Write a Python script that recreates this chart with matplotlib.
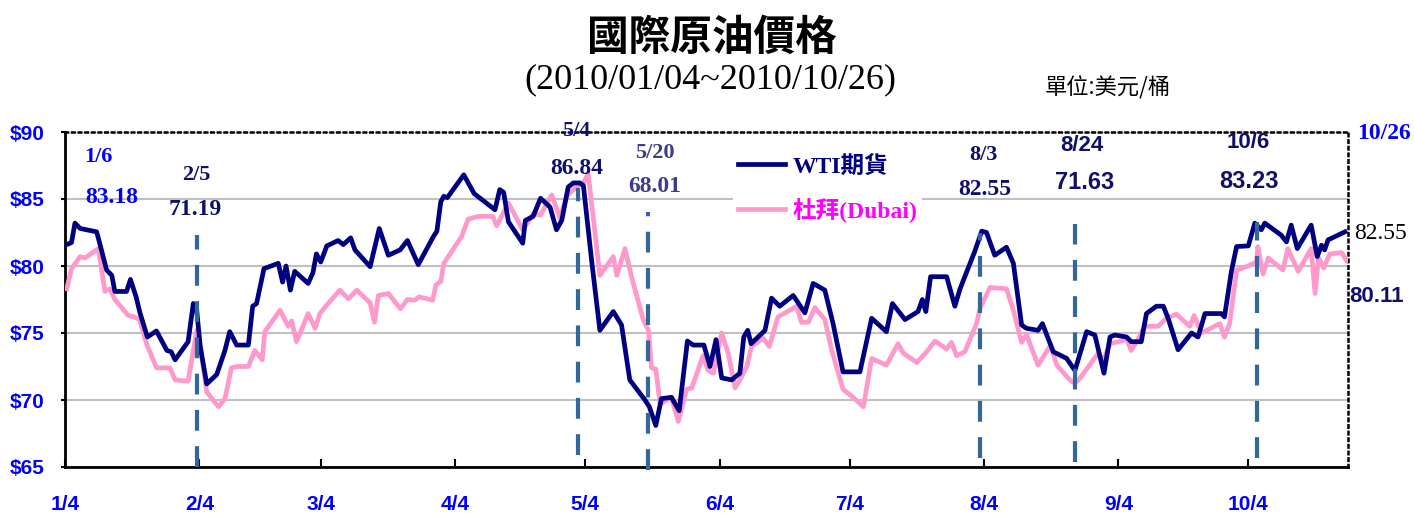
import datetime as dt
import matplotlib
matplotlib.use("Agg")
import matplotlib.pyplot as plt
from matplotlib import font_manager as fm

# days counted from 2010/01/04, values in US$/barrel
wti_day = [0.4, 1.5, 2.3, 3.5, 7.3, 8.0, 9.6, 10.8, 11.5, 14.2, 15.1, 16.4, 17.3, 19.0,
           21.1, 23.5, 24.5, 25.4, 28.4, 29.6, 30.3, 31.2, 32.7, 35.0, 36.9, 38.0, 39.6,
           42.3, 43.3, 44.2, 45.9, 49.2, 50.2, 51.0, 52.0, 53.0, 56.1, 57.2, 58.0, 59.0,
           60.4, 63.0, 64.2, 65.9, 66.9, 70.4, 72.5, 74.6, 77.3, 79.0, 81.5, 85.0, 85.8,
           86.7, 87.4, 88.2, 92.0, 94.4, 99.2, 100.3, 101.2, 102.3, 105.6, 106.2, 108.0,
           109.7, 111.9, 113.4, 114.6, 116.1, 117.3, 118.8, 119.6, 121.5, 123.4, 126.5,
           128.4, 130.3, 133.8, 134.8, 136.3, 137.6, 139.9, 141.7, 143.6, 144.9, 147.4,
           148.8, 150.2, 151.5, 153.8, 155.7, 156.6, 157.5, 158.3, 161.5, 163.0, 164.9,
           168.0, 170.7, 172.6, 175.3, 177.2, 179.5, 183.4, 186.1, 189.5, 190.9, 193.8,
           196.8, 197.8, 198.6, 199.7, 203.4, 205.3, 206.5, 209.9, 211.5, 212.6, 214.5,
           217.2, 218.8, 220.7, 221.8, 224.5, 225.5, 228.0, 231.1, 233.0, 235.7, 237.6,
           239.7, 241.1, 242.2, 244.9, 246.0, 248.3, 249.5, 251.8, 253.4, 254.5, 256.8,
           259.9, 261.4, 263.0, 266.8, 267.5, 269.1, 270.3, 273.0, 274.5, 276.0, 276.8,
           279.1, 280.6, 281.8, 282.9, 284.3, 287.5, 288.9, 289.9, 290.6, 291.4, 295.3]
wti_val = [81.6, 81.75, 83.2, 82.8, 82.55, 81.7, 79.7, 79.3, 78.1, 78.1, 79.0, 77.7, 76.5, 74.7,
           75.15, 73.7, 73.6, 73.0, 74.35, 77.2, 77.0, 74.0, 71.2, 71.9, 73.7, 75.1, 74.1,
           74.1, 77.0, 77.2, 79.8, 80.2, 78.8, 80.0, 78.2, 79.6, 78.7, 79.5, 80.9, 80.3,
           81.5, 81.9, 81.6, 82.1, 81.2, 79.95, 82.8, 80.8, 81.2, 81.9, 80.1, 82.2, 82.6,
           84.8, 85.2, 85.1, 86.8, 85.4, 84.2, 85.7, 85.5, 83.3, 81.7, 83.4, 83.7,
           85.05, 84.4, 82.7, 83.4, 85.9, 86.2, 86.2, 86.0, 80.4, 75.2, 76.6,
           75.6, 71.5, 70.0, 69.5, 68.1, 70.1, 70.2, 69.2, 74.4, 74.1, 74.1,
           72.5, 74.5, 71.65, 71.5, 72.0, 74.7, 75.2, 74.2, 75.2, 77.6, 77.0,
           77.8, 76.5, 78.7, 78.2, 75.7, 72.1, 72.1, 76.1, 75.1, 77.2, 76.0,
           76.6, 77.5, 76.6, 79.2, 79.2, 77.0, 78.3, 81.1, 82.6, 82.5, 80.8,
           81.4, 80.2, 75.6, 75.35, 75.2, 75.7, 73.6, 73.1, 72.2, 75.1, 74.85,
           72.0, 74.7, 74.85, 74.7, 74.35, 74.35, 76.45, 77.0, 77.0, 76.1, 73.75,
           75.0, 74.7, 76.45, 76.45, 76.2, 79.6, 81.45, 81.5, 83.2, 82.7, 83.2,
           82.65, 82.3, 81.8, 83.05, 81.3, 83.05, 80.7, 81.55, 81.2, 81.95, 82.55]

dubai_day = [0.4, 1.5, 3.5, 4.6, 7.7, 9.2, 10.3, 11.5, 14.6, 16.0, 17.2, 18.8, 21.1, 24.2,
             25.4, 28.4, 30.4, 31.2, 32.7, 35.4, 36.9, 38.4, 39.6, 42.3, 43.8, 45.5, 46.1,
             49.6, 51.5, 52.3, 53.4, 56.1, 57.7, 58.8, 60.7, 63.4, 65.4, 67.3, 70.4, 71.4,
             72.3, 74.6, 77.4, 79.0, 80.7, 81.7, 84.8, 85.6, 86.7, 87.4, 91.5, 93.0, 95.3,
             98.7, 99.6, 102.3, 105.6, 106.9, 108.0, 109.7, 112.3, 114.2, 115.7, 118.0,
             119.6, 120.7, 123.4, 126.5, 127.3, 129.2, 130.7, 133.4, 134.6, 135.3, 136.3,
             137.3, 139.9, 141.5, 143.4, 144.6, 147.2, 148.4, 149.6, 151.5, 153.0, 154.6,
             155.7, 157.3, 158.4, 161.1, 162.5, 164.5, 168.8, 169.9, 171.5, 173.0, 175.3,
             176.9, 179.5, 181.8, 184.2, 186.1, 189.5, 192.2, 193.4, 196.5, 198.8, 200.7,
             203.4, 204.5, 205.7, 207.6, 210.3, 211.1, 213.4, 217.2, 218.8, 220.7, 221.8,
             224.5, 227.4, 228.8, 231.8, 233.0, 234.1, 238.4, 239.5, 241.1, 244.9, 246.0,
             247.5, 249.1, 252.2, 254.1, 256.4, 259.5, 260.5, 262.2, 266.4, 267.5, 268.7,
             270.3, 272.6, 274.9, 275.2, 276.4, 277.6, 279.1, 281.0, 282.1, 284.5, 287.5,
             288.4, 289.2, 290.4, 291.8, 294.5, 295.7]
dubai_val = [78.3, 79.8, 80.7, 80.6, 81.3, 78.1, 78.3, 77.5, 76.3, 76.2, 76.0, 74.2, 72.4, 72.4,
             71.5, 71.4, 75.2, 74.0, 70.6, 69.5, 70.1, 72.4, 72.5, 72.5, 73.7, 73.0, 75.1,
             76.7, 75.5, 75.9, 74.35, 76.45, 75.35, 76.45, 77.2, 78.2, 77.55, 78.2, 77.25, 75.8,
             77.8, 77.95, 76.8, 77.5, 77.45, 77.7, 77.45, 78.6, 78.85, 80.2, 82.2, 83.5, 83.7,
             83.7, 83.0, 84.7, 82.7, 83.3, 83.9, 83.8, 85.3, 83.55, 85.2, 85.9,
             86.2, 86.9, 79.3, 80.7, 79.3, 81.3, 79.2, 76.0, 75.2, 72.4, 72.3,
             69.7, 70.2, 68.4, 70.8, 70.9, 73.3, 72.2, 72.0, 75.0, 73.5, 70.9,
             71.5, 72.5, 74.0, 74.6, 74.0, 76.2, 77.0, 75.8, 75.8, 76.9, 76.0,
             73.7, 70.8, 70.2, 69.5, 73.1, 72.6, 74.2, 73.5, 72.8, 73.6, 74.4,
             73.8, 74.3, 73.3, 73.6, 75.7, 76.85, 78.4, 78.3, 76.7, 74.3, 74.9,
             72.6, 74.1, 72.6, 71.5, 71.25, 71.6, 73.5, 72.9, 74.2, 74.5, 73.7,
             74.5, 75.5, 75.5, 76.1, 76.4, 75.5, 76.3, 75.0, 75.7, 74.7, 75.7,
             79.7, 79.95, 80.3, 81.45, 79.4, 80.6, 80.2, 79.7, 81.3, 79.6, 81.3,
             77.95, 80.6, 79.85, 80.9, 81.0, 80.4]

month_ticks = ["1/4", "2/4", "3/4", "4/4", "5/4", "6/4", "7/4", "8/4", "9/4", "10/4"]
y_ticks = [65, 70, 75, 80, 85, 90]

# marked dates: dashed line from bottom to top value
marks_day = [30.5, 118.4, 134.6, 211.2, 233.0, 275.0]
marks_top = [82.3, 85.8, 84.0, 82.5, 83.1, 83.3]
marks_bottom = [65.0, 65.9, 64.8, 65.7, 65.4, 65.7]

names = {f.name for f in fm.fontManager.ttflist}
narrow = "Liberation Sans Narrow" if "Liberation Sans Narrow" in names else "Liberation Sans"
serif = ["Liberation Serif", "Noto Sans CJK TC"]
cjk = ["Noto Sans CJK TC", "DejaVu Sans"]

NAVY = "#000080"
PINK = "#FF99CC"
BLUE = "#0000FF"
DASH = "#336699"
INK = "#10106A"

fig = plt.figure(figsize=(14.14, 5.13), dpi=100)
ax = fig.add_axes([65 / 1414, 1 - 467 / 513, (1348 - 65) / 1414, (467 - 132) / 513])

ax.plot(dubai_day, dubai_val, color=PINK, lw=3.4, label="杜拜(Dubai)", zorder=3)
ax.plot(wti_day, wti_val, color=NAVY, lw=3.4, label="WTI期貨", zorder=4)

for d, top, bot in zip(marks_day, marks_top, marks_bottom):
    ax.plot([d, d], [bot, top], color=DASH, lw=3, ls=(0, (5, 3.7)), zorder=5, clip_on=False)

ax.set_xlim(0, 296)
ax.set_ylim(65, 90)

start = dt.date(2010, 1, 4)
tick_pos = [(dt.date(2010, int(t.split("/")[0]), 4) - start).days for t in month_ticks]
ax.set_xticks(tick_pos)
ax.set_xticklabels(month_ticks)
ax.set_yticks(y_ticks)
ax.set_yticklabels([f"${v}" for v in y_ticks])
for lab in ax.get_xticklabels() + ax.get_yticklabels():
    lab.set_family(narrow)
    lab.set_fontweight("bold")
    lab.set_fontsize(15)
    lab.set_color(BLUE)
ax.tick_params(axis="x", direction="in", length=6, width=1.5, pad=20)
ax.tick_params(axis="y", direction="out", length=3, width=1.5, pad=12)

ax.grid(axis="y", color="#C0C0C0", lw=1.5, zorder=0)
ax.set_axisbelow(True)
for s in ["left", "bottom"]:
    ax.spines[s].set_linewidth(2)
    ax.spines[s].set_color("black")
for s in ["top", "right"]:
    ax.spines[s].set_linewidth(1.8)
    ax.spines[s].set_linestyle(":")
    ax.spines[s].set_color("black")


def note(x, y, s, color, fam, size=16, weight="bold", ha="center"):
    ax.text(x, y, s, color=color, family=fam, fontsize=size, fontweight=weight,
            ha=ha, va="center", clip_on=False, zorder=6)


note(7.6, 88.1, "1/6", BLUE, serif)
note(10.8, 85.1, "83.18", BLUE, serif, 17)
note(30.4, 86.8, "2/5", INK, serif)
note(30.0, 84.2, "71.19", INK, serif, 17)
note(117.9, 90.1, "5/4", INK, serif)
note(118.1, 87.3, "86.84", INK, serif, 17)
note(136.1, 88.4, "5/20", "#3C3C8C", serif)
note(136.1, 85.9, "68.01", "#3C3C8C", serif, 17)
note(211.8, 88.3, "8/3", INK, serif)
note(212.2, 85.7, "82.55", INK, serif, 17)
note(234.6, 89.0, "8/24", INK, narrow)
note(235.3, 86.2, "71.63", INK, narrow, 17)
note(272.9, 89.2, "10/6", INK, narrow)
note(273.1, 86.3, "83.23", INK, narrow, 17)
note(310.6, 89.9, "10/26", BLUE, serif, 17, ha="right")
note(303.6, 82.45, "82.55", "black", serif, 17, "normal")
note(302.6, 77.7, "80.11", INK, narrow, 16)

leg = ax.legend(handles=ax.get_lines()[1::-1], loc="center left",
                bbox_to_anchor=(0.521, 0.83), frameon=True, facecolor="white",
                edgecolor="none", framealpha=1, handlelength=2.0, handletextpad=0.3,
                labelspacing=0.85, borderpad=0.2, borderaxespad=0,
                prop={"family": serif, "weight": "bold", "size": 17},
                labelcolor=[NAVY, "#FF00FF"])
leg.set_zorder(2)
leg.get_frame().set_linewidth(0)

fig.text(712 / 1414, 1 - 38 / 513, "國際原油價格", family=cjk, fontsize=30,
         fontweight="bold", ha="center", va="center")
fig.text(710 / 1414, 1 - 80 / 513, "(2010/01/04~2010/10/26)", family=serif,
         fontsize=26, ha="center", va="center")
fig.text(1108 / 1414, 1 - 88 / 513, "單位:美元/桶", family=cjk, fontsize=16,
         ha="center", va="center")

fig.savefig("out.png", dpi=100)
